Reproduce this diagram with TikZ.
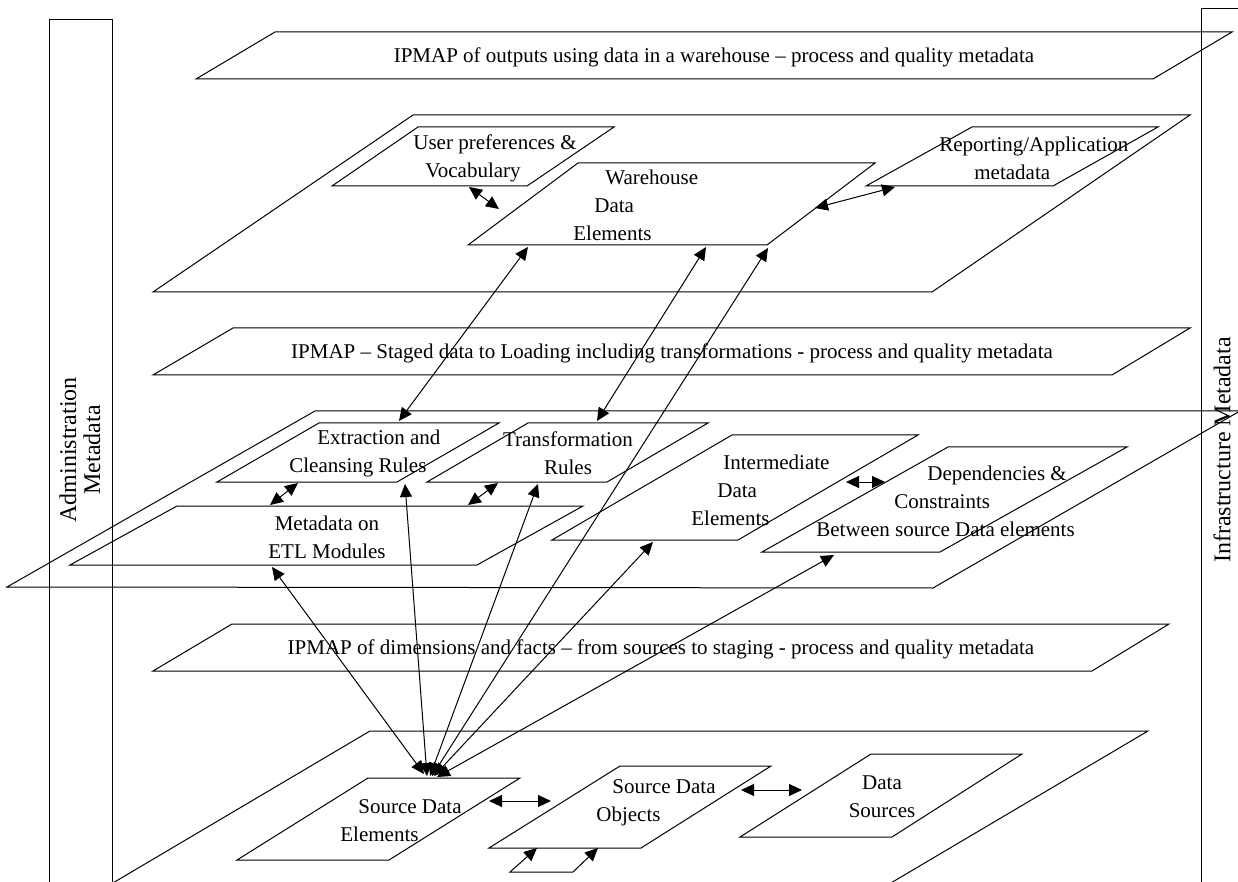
\documentclass[tikz,border=0pt]{standalone}
\usepackage{fontspec}
\setmainfont{Liberation Serif}
\usetikzlibrary{arrows.meta}

\begin{document}
\begin{tikzpicture}[
  x=0.5pt, y=-0.5pt,
  plane/.style={draw, line width=0.5pt},
  txt/.style={inner sep=0pt, font=\fontsize{10.5}{14}\selectfont},
  side/.style={inner sep=0pt, rotate=90, align=center, font=\fontsize{12}{12}\selectfont},
  arr/.style={{Triangle[length=6.5pt,width=6pt]}-{Triangle[length=6.5pt,width=6pt]}, line width=0.5pt}
]
  \useasboundingbox (0,0) rectangle (1238,882);

  % side columns
  \draw[plane] (49,890) -- (49,20) -- (112,20) -- (112,890);
  \draw[plane] (1201,890) -- (1201,9) -- (1250,9);
  \node[side] (admin) at (80,450) {Administration\\Metadata};
  \node[side] (infra) at (1222,450) {Infrastructure Metadata};

  % planes
  \draw[plane] (196,79) -- (275,32) -- (1232,32) -- (1153,79) -- cycle;
  \draw[plane] (153,292) -- (413,115) -- (1190,115) -- (932,292) -- cycle;
  \draw[plane] (153,375) -- (233,328) -- (1190,328) -- (1112,375) -- cycle;
  \draw[plane] (7,587) -- (315,411) -- (1240,411) -- (933,588) -- cycle;
  \draw[plane] (153,671) -- (232,624) -- (1169,624) -- (1092,671) -- cycle;
  \draw[plane] (101,890) -- (370,731) -- (1148,731) -- (879,890) -- cycle;

  % warehouse boxes
  \draw[plane] (332,186) -- (418,127) -- (614,127) -- (527,186) -- cycle;
  \draw[plane] (468,245) -- (578,163) -- (875,163) -- (767,245) -- cycle;
  \draw[plane] (866,186) -- (972,127) -- (1158,127) -- (1053,186) -- cycle;

  % staging boxes
  \draw[plane] (217,482) -- (319,423) -- (499,423) -- (397,482) -- cycle;
  \draw[plane] (427,482) -- (528,423) -- (708,423) -- (607,482) -- cycle;
  \draw[plane] (70,565) -- (177,506) -- (583,506) -- (477,565) -- cycle;
  \draw[plane] (552,540) -- (732,435) -- (918,435) -- (738,540) -- cycle;
  \draw[plane] (762,552) -- (948,447) -- (1127,447) -- (940,552) -- cycle;

  % source boxes
  \draw[plane] (237,860) -- (368,778) -- (520,778) -- (389,860) -- cycle;
  \draw[plane] (489,848) -- (620,766) -- (771,766) -- (641,848) -- cycle;
  \draw[plane] (740,837) -- (871,754) -- (1022,754) -- (892,837) -- cycle;

  % labels
  \node[txt] (outputs) at (714,57) {IPMAP of outputs using data in a warehouse -- process and quality metadata};
  \node[txt] (staged) at (672,353) {IPMAP -- Staged data to Loading including transformations - process and quality metadata};
  \node[txt] (dims) at (661,649) {IPMAP of dimensions and facts -- from sources to staging - process and quality metadata};

  \node[txt, align=left, anchor=west] (user) at (413,158) {User preferences \&\\\hspace*{6pt}Vocabulary};
  \node[txt, align=left, anchor=west] (wde) at (573,205) {\hspace*{16pt}Warehouse\\\hspace*{10.5pt}Data\\Elements};
  \node[txt, align=left, anchor=west] (rep) at (939,158) {Reporting/Application\\\hspace*{17.5pt}metadata};

  \node[txt, align=left, anchor=west] (extr) at (289,453) {\hspace*{14pt}Extraction and\\Cleansing Rules};
  \node[txt, align=center] (trans) at (568,453) {Transformation\\Rules};
  \node[txt, align=center] (meta) at (327,537) {Metadata on\\ETL Modules};
  \node[txt, align=left, anchor=west] (inter) at (691,490) {\hspace*{16pt}Intermediate\\\hspace*{13pt}Data\\Elements};
  \node[txt, align=left, anchor=west] (dep) at (816,501) {\hspace*{55.5pt}Dependencies \&\\\hspace*{39pt}Constraints\\Between source Data elements};

  \node[txt, align=left, anchor=west] (sde) at (340,821) {\hspace*{9pt}Source Data\\Elements};
  \node[txt, align=left, anchor=west] (sdo) at (596,803) {\hspace*{8pt}Source Data\\Objects};
  \node[txt, align=center] (ds) at (882,797) {Data\\Sources};

  % connector ends
  \coordinate (userS) at (469,187);
  \coordinate (wdeW) at (499,209);
  \coordinate (wdeE) at (815,208);
  \coordinate (repW) at (895,187);
  \coordinate (wdeS1) at (528,247);
  \coordinate (wdeS2) at (706,247);
  \coordinate (wdeS3) at (768,248);
  \coordinate (extrN) at (399,421);
  \coordinate (transN) at (597,421);
  \coordinate (extrS1) at (298,483);
  \coordinate (extrS2) at (405,484);
  \coordinate (transS1) at (498,483);
  \coordinate (transS2) at (538,484);
  \coordinate (metaN1) at (270,505);
  \coordinate (metaN2) at (468,505);
  \coordinate (metaS) at (272,567);
  \coordinate (interS) at (653,542);
  \coordinate (interE) at (846,482);
  \coordinate (depW) at (885,482);
  \coordinate (depS) at (834,555);
  \coordinate (sdeN1) at (424,774);
  \coordinate (sdeN2) at (427,776);
  \coordinate (sdeN3) at (430,776);
  \coordinate (sdeN4) at (432,776);
  \coordinate (sdeN5) at (434,776);
  \coordinate (sdeN6) at (437,777);
  \coordinate (sdeE) at (489,801);
  \coordinate (sdoW) at (551,801);
  \coordinate (sdoE) at (741,790);
  \coordinate (dsW) at (802,790);
  \coordinate (sdoS1) at (537,848);
  \coordinate (sdoS2) at (598,848);
  \coordinate (loopL) at (510,872);
  \coordinate (loopR) at (573,872);

  % connectors
  \draw[arr] (userS) -- (wdeW);
  \draw[arr] (wdeE) -- (repW);
  \draw[arr] (wdeS1) -- (extrN);
  \draw[arr] (wdeS2) -- (transN);
  \draw[arr] (wdeS3) -- (sdeN4);
  \draw[arr] (extrS1) -- (metaN1);
  \draw[arr] (transS1) -- (metaN2);
  \draw[arr] (metaS) -- (sdeN1);
  \draw[arr] (extrS2) -- (sdeN2);
  \draw[arr] (transS2) -- (sdeN3);
  \draw[arr] (interS) -- (sdeN5);
  \draw[arr] (depS) -- (sdeN6);
  \draw[arr] (interE) -- (depW);
  \draw[arr] (sdeE) -- (sdoW);
  \draw[arr] (sdoE) -- (dsW);
  \draw[arr] (sdoS1) -- (loopL) -- (loopR) -- (sdoS2);
\end{tikzpicture}
\end{document}
